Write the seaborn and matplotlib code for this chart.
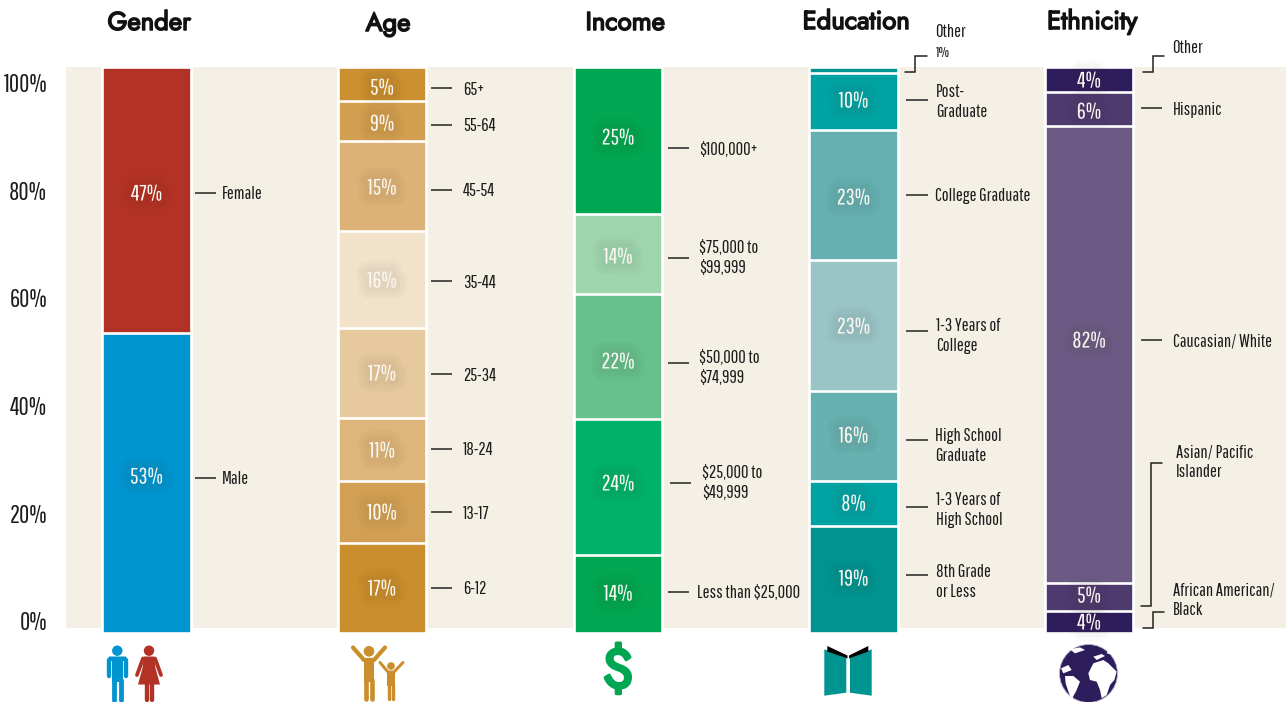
import matplotlib
matplotlib.use('Agg')
import matplotlib.pyplot as plt
import matplotlib.patheffects as pe
from matplotlib.patches import Circle, Polygon
import pandas as pd
import seaborn as sns

panels = ['Gender', 'Age', 'Income', 'Education', 'Ethnicity']

# bar heights (bottom to top), printed labels kept separately
gender_heights = [53, 47]
age_heights = [15.9, 11, 11, 16, 17, 16, 7, 6.1]
income_heights = [13.8, 24, 22, 14.2, 26]
education_heights = [18.8, 8, 16, 23, 23, 10.1, 1.1]
ethnicity_heights = [3.9, 5, 80.6, 6, 4.5]

gender_labels = ['53%', '47%']
age_labels = ['17%', '10%', '11%', '17%', '16%', '15%', '9%', '5%']
income_labels = ['14%', '24%', '22%', '14%', '25%']
education_labels = ['19%', '8%', '16%', '23%', '23%', '10%', '']
ethnicity_labels = ['4%', '5%', '82%', '6%', '4%']

gender_colors = ['#0095D0', '#B23325']
age_colors = ['#CA8E2C', '#D2A054', '#DEB57B', '#E6C99D', '#F1E2C9', '#DDB276', '#D29E4F', '#CA8F2E']
income_colors = ['#00A651', '#00B16A', '#66C18C', '#9ED5AD', '#00A651']
education_colors = ['#009490', '#00A3A3', '#66B1B1', '#9AC5C7', '#65B0B2', '#00A3A3', '#009490']
ethnicity_colors = ['#2E1D5C', '#4F3A6F', '#6C5A85', '#4F3A6F', '#2E1D5C']

all_heights = [gender_heights, age_heights, income_heights, education_heights, ethnicity_heights]
all_labels = [gender_labels, age_labels, income_labels, education_labels, ethnicity_labels]
all_colors = [gender_colors, age_colors, income_colors, education_colors, ethnicity_colors]

axis_ticks = [0, 20, 40, 60, 80, 100]
axis_labels = ['0%', '20%', '40%', '60%', '80%', '100%']

# pixel y of each printed percent, same order as the labels
pct_y = [[476, 193],
         [588, 512, 450, 373, 280, 187, 123, 87],
         [593, 483, 361, 256, 137],
         [578, 503, 435, 326, 197, 100, 0],
         [622, 595, 340, 111, 80]]
bar_x = [146.5, 382, 618, 853.5, 1089]

rows = []
for panel, heights, colors in zip(panels, all_heights, all_colors):
    bottom = 0
    for h, c in zip(heights, colors):
        bottom += h
        rows.append({'panel': panel, 'top': bottom, 'color': c})
df = pd.DataFrame(rows)

FONT = ['Pathway Gothic One', 'Sofia Sans Extra Condensed', 'Liberation Sans', 'DejaVu Sans']
TITLE_FONT = ['Jost', 'Lato', 'DejaVu Sans']
INK = '#1c1c1c'
W, H = 1286, 702
LABEL_SIZE = 13.2

sns.set_theme(style='white')
plt.rcParams['font.family'] = FONT

fig = plt.figure(figsize=(12.86, 7.02), dpi=100, facecolor='white')
ax = fig.add_axes([66 / W, (H - 628) / H, (W - 66) / W, 561 / H], facecolor='#F4F0E6')

# cumulative bars, tallest first, so each shorter one paints over the one before
for _, row in df.sort_values('top', ascending=False).iterrows():
    sns.barplot(x=[row['panel']], y=[row['top']], order=panels, color=row['color'], saturation=1,
                width=0.375, edgecolor='white', linewidth=1.9, ax=ax)
for p in ax.patches:
    p.set_clip_on(False)

ax.set_xlim((66 - 146.5) / 235.65, (W - 146.5) / 235.65)
ax.set_ylim((633 - 628) / 5.665, (633 - 67) / 5.665)
ax.set_xlabel('')
ax.set_ylabel('')
ax.set_xticks([])
ax.set_yticks([])
sns.despine(ax=ax, left=True, bottom=True)

# the printed scale sits a little off the bars in the original
ax2 = ax.twinx()
ax2.set_ylim((621 - 628) / 5.385, (621 - 67) / 5.385)
ax2.set_yticks(axis_ticks)
ax2.set_yticklabels(axis_labels, fontsize=18, color=INK)
ax2.yaxis.tick_left()
ax2.tick_params(axis='y', length=0, pad=13.5)
sns.despine(ax=ax2, left=True, right=True, bottom=True)

# overlay in pixel coordinates for labels, leaders and icons
px = fig.add_axes([0, 0, 1, 1], facecolor='none')
px.set_xlim(0, W)
px.set_ylim(H, 0)
px.axis('off')

title_x = [149, 388, 625, 856, 1092]
title_y = [23, 24, 23, 22, 22]
for name, x, y in zip(panels, title_x, title_y):
    t = px.text(x, y, name, ha='center', va='center', fontsize=18.5, color='#111111', family=TITLE_FONT)
    t.set_path_effects([pe.withStroke(linewidth=1.1, foreground='#111111')])

glow = [pe.Stroke(linewidth=lw, foreground='#3a3020', alpha=0.025) for lw in (16, 11, 6)] + [pe.Normal()]
for x, labels, ys in zip(bar_x, all_labels, pct_y):
    for label, y in zip(labels, ys):
        if label:
            t = px.text(x, y + 1.5, label, ha='center', va='center', fontsize=16, color='#FBF8F2')
            t.set_path_effects(glow)

# name, text x, text y, leader x0, leader x1, leader y
side_labels = [
    ('Female', 222, 194, 195, 216, 193), ('Male', 222, 479, 195, 216, 478),
    ('65+', 463, 90, 431, 452, 88), ('55-64', 463, 126, 431, 452, 125), ('45-54', 463, 191, 431, 452, 190),
    ('35-44', 463, 283, 431, 452, 281), ('25-34', 463, 376, 431, 452, 374), ('18-24', 463, 450, 431, 452, 449),
    ('13-17', 463, 514, 431, 452, 512), ('6-12', 463, 589, 431, 452, 588),
    ('$100,000+', 699, 150, 668, 689, 148), ('$75,000 to\n$99,999', 699, 258, 668, 689, 258),
    ('$50,000 to\n$74,999', 699, 368, 668, 689, 363), ('$25,000 to\n$49,999', 702, 483, 670, 691, 483),
    ('Less than $25,000', 697, 593, 668, 689, 592),
    ('Post-\nGraduate', 936, 102, 906, 928, 100), ('College Graduate', 935, 196, 906, 928, 195),
    ('1-3 Years of\nCollege', 936, 336, 906, 928, 331), ('High School\nGraduate', 935, 446, 906, 928, 440),
    ('1-3 Years of\nHigh School', 936, 510, 906, 928, 507), ('8th Grade\nor Less', 936, 582, 906, 928, 575),
    ('Hispanic', 1173, 110, 1141, 1162, 108), ('Caucasian/ White', 1173, 341, 1141, 1162, 340),
]
for text, tx, ty, x0, x1, ly in side_labels:
    px.plot([x0, x1], [ly, ly], color='#222222', lw=1.1, solid_capstyle='butt')
    px.text(tx, ty, text, ha='left', va='center', fontsize=LABEL_SIZE, color=INK, linespacing=1.28)

elbows = [
    [(905, 72), (915, 72), (915, 56), (927, 56)],
    [(1143, 72), (1153, 72), (1153, 56), (1164, 56)],
    [(1162, 463), (1151, 463), (1151, 606), (1141, 606)],
    [(1143, 628), (1153, 628), (1153, 612), (1164, 612)],
]
for pts in elbows:
    px.plot([p[0] for p in pts], [p[1] for p in pts], color='#222222', lw=1.1, solid_joinstyle='miter')

px.text(935, 32, 'Other', ha='left', va='center', fontsize=LABEL_SIZE, color=INK)
px.text(936, 53, '1%', ha='left', va='center', fontsize=11, color=INK)
px.text(1172, 48, 'Other', ha='left', va='center', fontsize=LABEL_SIZE, color=INK)
px.text(1176, 462, 'Asian/ Pacific\nIslander', ha='left', va='center', fontsize=LABEL_SIZE, color=INK, linespacing=1.28)
px.text(1173, 600, 'African American/\nBlack', ha='left', va='center', fontsize=LABEL_SIZE, color=INK, linespacing=1.28)


def stroke(pts, color, lw_px, cap='round'):
    px.plot([p[0] for p in pts], [p[1] for p in pts], color=color, lw=lw_px * 0.72, solid_capstyle=cap)


def fill(pts, color):
    px.add_patch(Polygon(pts, closed=True, facecolor=color, edgecolor='none'))


# man
blue, red, gold, green, teal, purple = '#0095D0', '#B23325', '#CA8E2C', '#00A651', '#009490', '#2E1D5C'
px.add_patch(Circle((117.3, 650.7), 4.5, color=blue))
stroke([(108.5, 659.5), (108.5, 676)], blue, 4.4)
stroke([(126.3, 659.5), (126.3, 676)], blue, 4.4)
fill([(109, 656.5), (126, 656.5), (128, 661), (107, 661)], blue)
fill([(111.6, 658), (123.2, 658), (123.2, 682), (111.6, 682)], blue)
stroke([(114, 680), (114, 699.5)], blue, 4.8)
stroke([(120.8, 680), (120.8, 699.5)], blue, 4.8)

# woman
px.add_patch(Circle((149, 650.7), 4.5, color=red))
fill([(144, 656.5), (154, 656.5), (155.5, 668), (160, 684.5), (138, 684.5), (142.5, 668)], red)
stroke([(143, 658.5), (137, 675)], red, 3.8)
stroke([(155, 658.5), (161, 675)], red, 3.8)
stroke([(146.5, 684), (146.5, 699.5)], red, 4.4)
stroke([(151.8, 684), (151.8, 699.5)], red, 4.4)

# adult and child with raised arms
px.add_patch(Circle((369, 651.3), 4.6, color=gold))
stroke([(353, 647.5), (364, 660), (374, 660), (385, 647.5)], gold, 4.2)
fill([(363.7, 659), (374.3, 659), (374.3, 682), (363.7, 682)], gold)
stroke([(366.2, 680), (366.2, 698.5)], gold, 4.6)
stroke([(371.8, 680), (371.8, 698.5)], gold, 4.6)
px.add_patch(Circle((391, 666), 3.1, color=gold))
stroke([(380, 662.5), (388, 672), (394, 672), (403, 662.5)], gold, 3)
fill([(387, 671), (395.3, 671), (395.3, 686), (387, 686)], gold)
stroke([(389, 685), (389, 698.5)], gold, 3.4)
stroke([(393.4, 685), (393.4, 698.5)], gold, 3.4)

# dollar sign
t = px.text(618, 672, '$', ha='center', va='center', fontsize=39, color=green, family=TITLE_FONT)
t.set_path_effects([pe.withStroke(linewidth=2.4, foreground=green)])

# open book
fill([(824.3, 649.3), (846.3, 658), (846.3, 692.7), (824.3, 695.7)], teal)
fill([(850, 658), (871.7, 649.3), (871.7, 695.7), (850, 692.7)], teal)
fill([(827.3, 646), (847.5, 655.5), (847.5, 658.5), (827.3, 651.5)], '#000000')
fill([(849, 655.5), (868.3, 646), (868.3, 651.5), (849, 658.5)], '#000000')

# globe
px.add_patch(Circle((1088.5, 673.5), 29, facecolor=purple, edgecolor='#B9B2CC', lw=0.6))
land = [
    [(820, 100), (835, 70), (865, 60), (880, 70), (895, 85), (905, 95), (898, 120), (885, 135),
     (875, 165), (860, 175), (855, 150), (845, 125), (825, 120)],
    [(750, 108), (775, 108), (795, 125), (785, 150), (770, 178), (762, 160), (752, 130)],
    [(835, 50), (860, 42), (870, 48), (845, 60)],
    [(765, 28), (795, 22), (810, 30), (780, 40)],
    [(738, 85), (760, 75), (770, 90), (745, 100)],
    [(880, 30), (900, 38), (895, 45), (875, 40)],
]
for shape in land:
    fill([(815 + x / 3, 640 + y / 3) for x, y in shape], 'white')

plt.savefig('out.png', dpi=100)
